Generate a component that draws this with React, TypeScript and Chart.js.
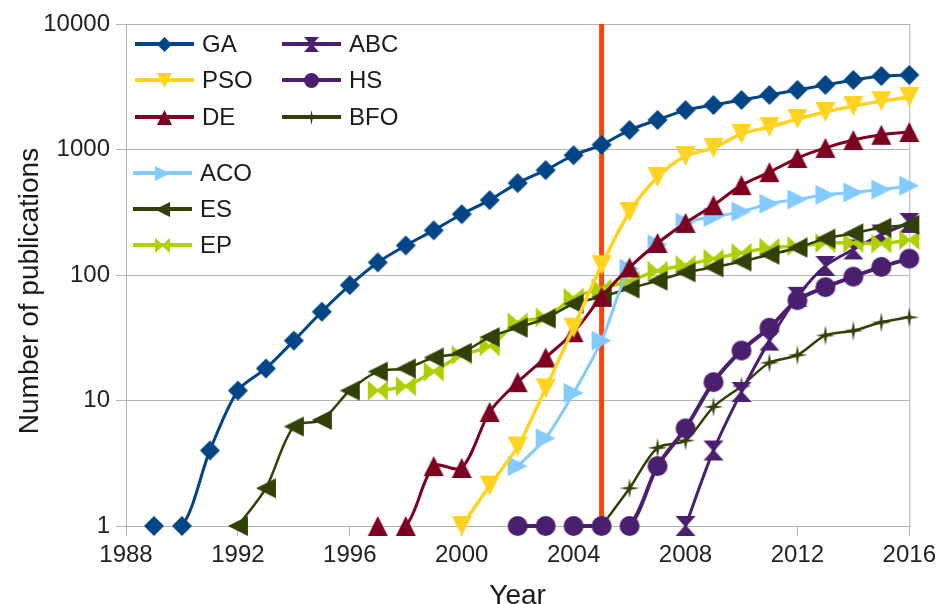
import { useEffect, useRef } from 'react';
import { Chart, registerables } from 'chart.js';

Chart.register(...registerables);

// ---------- data ----------
const YEARS = [1988, 1989, 1990, 1991, 1992, 1993, 1994, 1995, 1996, 1997, 1998, 1999, 2000, 2001, 2002, 2003, 2004, 2005, 2006, 2007, 2008, 2009, 2010, 2011, 2012, 2013, 2014, 2015, 2016];
const X_TICKS = [1988, 1992, 1996, 2000, 2004, 2008, 2012, 2016];
const Y_TICKS = [1, 10, 100, 1000, 10000];
const MARKER_YEAR = 2005;
const X_TITLE = 'Year';
const Y_TITLE = 'Number of publications';

const GA = [null, 1, 1, 4, 12, 18, 30, 51, 83, 126, 172, 227, 305, 395, 540, 685, 900, 1090, 1430, 1720, 2060, 2260, 2480, 2720, 2980, 3270, 3580, 3850, 3930];
const PSO = [null, null, null, null, null, null, null, null, null, null, null, null, 1, 2.1, 4.3, 12.5, 38, 120, 318, 604, 888, 1030, 1330, 1510, 1750, 1990, 2220, 2430, 2620];
const DE = [null, null, null, null, null, null, null, null, null, 1, 1, 3, 2.9, 8.1, 14, 22, 35, 67, 115, 180, 260, 360, 520, 660, 855, 1030, 1190, 1310, 1380];
const ACO = [null, null, null, null, null, null, null, null, null, null, null, null, null, null, 3, 5, 11.5, 30, 112, 175, 262, 290, 320, 370, 400, 435, 455, 480, 515];
const ES = [null, null, null, null, 1, 2, 6.2, 7, 12, 17, 18, 22, 24, 32, 38, 45, 59, 67, 78, 90, 105, 115, 128, 145, 165, 195, 215, 238, 250];
const EP = [null, null, null, null, null, null, null, null, null, 12, 13, 17, 23, 27, 42, 46, 66, 78, 90, 108, 120, 135, 150, 165, 170, 180, 180, 178, 190];
const ABC = [null, null, null, null, null, null, null, null, null, null, null, null, null, null, null, null, null, null, null, null, 1, 4, 11.7, 30, 67, 118, 160, 210, 260];
const HS = [null, null, null, null, null, null, null, null, null, null, null, null, null, null, 1, 1, 1, 1, 1, 3, 6, 14, 25, 38, 63, 80, 97, 116, 135];
const BFO = [null, null, null, null, null, null, null, null, null, null, null, null, null, null, null, null, null, 1, 2, 4.2, 4.8, 8.9, 13, 20, 23, 33, 36, 42, 46];

// segments (start year) that fall below the axis floor in the original and are not shown
const HIDDEN_SEGMENTS: Record<string, number[]> = { GA: [1989], DE: [1997], HS: [2003, 2005] };

const SERIES = [
  { name: 'GA', values: GA, color: '#004586', shape: 'diamond', width: 3 },
  { name: 'PSO', values: PSO, color: '#ffd320', shape: 'down', width: 3.5 },
  { name: 'DE', values: DE, color: '#7e0021', shape: 'up', width: 3 },
  { name: 'ACO', values: ACO, color: '#83caff', shape: 'right', width: 3 },
  { name: 'ES', values: ES, color: '#314004', shape: 'left', width: 2.5 },
  { name: 'EP', values: EP, color: '#aecf00', shape: 'bowtie', width: 3.5 },
  { name: 'ABC', values: ABC, color: '#4b1f6f', shape: 'sandglass', width: 3 },
  { name: 'HS', values: HS, color: '#4b1f6f', shape: 'circle', width: 4 },
  { name: 'BFO', values: BFO, color: '#314004', shape: 'star', width: 2.5 },
];

const FONT = "'Liberation Sans', Arial, sans-serif";

function makeMarker(shape: string, color: string, size: number): HTMLCanvasElement {
  const pad = 1;
  const S = size + pad * 2;
  const c = document.createElement('canvas');
  c.width = S;
  c.height = S;
  const g = c.getContext('2d')!;
  g.translate(pad, pad);
  g.fillStyle = color;
  const s = size;
  const h = s / 2;
  const n = s * 0.06;
  g.beginPath();
  switch (shape) {
    case 'diamond':
      g.moveTo(h, 0); g.lineTo(s, h); g.lineTo(h, s); g.lineTo(0, h);
      break;
    case 'down':
      g.moveTo(0, 0); g.lineTo(s, 0); g.lineTo(h, s);
      break;
    case 'up':
      g.moveTo(h, 0); g.lineTo(s, s); g.lineTo(0, s);
      break;
    case 'right':
      g.moveTo(0, 0); g.lineTo(s, h); g.lineTo(0, s);
      break;
    case 'left':
      g.moveTo(s, 0); g.lineTo(0, h); g.lineTo(s, s);
      break;
    case 'bowtie':
      g.moveTo(0, 0); g.lineTo(h, h - n); g.lineTo(s, 0); g.lineTo(s, s); g.lineTo(h, h + n); g.lineTo(0, s);
      break;
    case 'sandglass':
      g.moveTo(0, 0); g.lineTo(s, 0); g.lineTo(h + n, h); g.lineTo(s, s); g.lineTo(0, s); g.lineTo(h - n, h);
      break;
    case 'circle':
      g.arc(h, h, h, 0, Math.PI * 2);
      break;
    case 'star': {
      const R = h;
      const r = h * 0.22;
      for (let i = 0; i < 8; i++) {
        const a = -Math.PI / 2 + (i * Math.PI) / 4;
        const rad = i % 2 === 0 ? R : r;
        const px = h + Math.cos(a) * rad;
        const py = h + Math.sin(a) * rad;
        if (i === 0) g.moveTo(px, py); else g.lineTo(px, py);
      }
      break;
    }
  }
  g.closePath();
  g.fill();
  return c;
}

export default function App() {
  const ref = useRef<HTMLCanvasElement | null>(null);

  useEffect(() => {
    if (!ref.current) return;

    const plotMarkers = SERIES.map((s) => makeMarker(s.shape, s.color, 20));
    const legendMarkers = SERIES.map((s) => makeMarker(s.shape, s.color, 15));

    const datasets = SERIES.map((s, i) => ({
      label: s.name,
      data: YEARS.map((yr, k) => ({ x: yr, y: s.values[k] })).filter((p) => p.y !== null),
      borderColor: s.color,
      backgroundColor: s.color,
      borderWidth: s.width,
      pointStyle: plotMarkers[i] as any,
      pointRadius: 10,
      tension: 0.3,
      clip: false as any,
      segment: {
        borderColor: (ctx: any) => {
          const hid = HIDDEN_SEGMENTS[s.name];
          if (hid && hid.includes(ctx.p0.parsed.x)) return 'rgba(0,0,0,0)';
          return undefined;
        },
      },
    }));

    const frame = {
      id: 'frame',
      beforeDatasetsDraw(chart: any) {
        const { ctx, chartArea } = chart;
        const xs = chart.scales.x;
        ctx.save();
        ctx.strokeStyle = '#b3b3b3';
        ctx.lineWidth = 1;
        ctx.strokeRect(chartArea.left + 0.5, chartArea.top + 0.5, chartArea.right - chartArea.left, chartArea.bottom - chartArea.top);
        const px = xs.getPixelForValue(MARKER_YEAR);
        ctx.strokeStyle = '#ff420e';
        ctx.lineWidth = 5;
        ctx.beginPath();
        ctx.moveTo(px, chartArea.top);
        ctx.lineTo(px, chartArea.bottom);
        ctx.stroke();
        // y-axis title (sits a little below the plot centre in the original)
        ctx.save();
        ctx.translate(30, 291);
        ctx.rotate(-Math.PI / 2);
        ctx.fillStyle = '#1a1a1a';
        ctx.font = `28px ${FONT}`;
        ctx.textAlign = 'center';
        ctx.textBaseline = 'middle';
        ctx.fillText(Y_TITLE, 0, 0);
        ctx.restore();
        ctx.restore();
      },
    };

    const legendPos = [
      { x: 135, y: 44 },
      { x: 135, y: 80 },
      { x: 135, y: 117 },
      { x: 133, y: 173 },
      { x: 133, y: 209 },
      { x: 133, y: 245 },
      { x: 282, y: 44 },
      { x: 282, y: 80 },
      { x: 282, y: 117 },
    ];

    const legend = {
      id: 'customLegend',
      afterDatasetsDraw(chart: any) {
        const { ctx } = chart;
        ctx.save();
        SERIES.forEach((s, i) => {
          const p = legendPos[i];
          const len = 59;
          ctx.strokeStyle = s.color;
          ctx.lineWidth = 4;
          ctx.beginPath();
          ctx.moveTo(p.x, p.y);
          ctx.lineTo(p.x + len, p.y);
          ctx.stroke();
          const m = legendMarkers[i];
          ctx.drawImage(m, Math.round(p.x + len / 2 - m.width / 2), Math.round(p.y - m.height / 2));
          ctx.fillStyle = '#1a1a1a';
          ctx.font = `24px ${FONT}`;
          ctx.textBaseline = 'middle';
          ctx.textAlign = 'left';
          ctx.fillText(s.name, p.x + len + 8, p.y + 1);
        });
        ctx.restore();
      },
    };

    const chart = new Chart(ref.current, {
      type: 'line',
      data: { datasets: datasets as any },
      plugins: [frame, legend],
      options: {
        animation: false,
        responsive: false,
        layout: { padding: { top: 24, right: 29, left: 0, bottom: 0 } },
        plugins: {
          legend: { display: false },
          tooltip: { enabled: false },
        },
        scales: {
          x: {
            type: 'linear',
            min: 1988,
            max: 2016,
            afterBuildTicks: (scale: any) => {
              scale.ticks = X_TICKS.map((v) => ({ value: v }));
            },
            afterFit: (scale: any) => {
              scale.height = 78;
            },
            grid: { drawOnChartArea: false, drawTicks: true, tickLength: 10, color: '#b3b3b3' },
            border: { display: true, color: '#b3b3b3' },
            ticks: {
              font: { family: FONT, size: 24 },
              color: '#222',
              padding: 5,
              maxRotation: 0,
              autoSkip: false,
              callback: (v: any) => String(v),
            },
            title: {
              display: true,
              text: X_TITLE,
              font: { family: FONT, size: 28, lineHeight: 1 },
              color: '#1a1a1a',
              padding: { top: 0, bottom: -6 },
            },
          },
          y: {
            type: 'logarithmic',
            min: 1,
            max: 10000,
            afterBuildTicks: (scale: any) => {
              scale.ticks = Y_TICKS.map((v) => ({ value: v }));
            },
            afterFit: (scale: any) => {
              scale.width = 126;
            },
            grid: { color: '#b3b3b3', tickLength: 10 },
            border: { display: true, color: '#b3b3b3' },
            ticks: {
              font: { family: FONT, size: 24 },
              color: '#222',
              padding: 6,
              autoSkip: false,
              callback: (v: any) => String(v),
            },
            title: { display: false },
          },
        },
      },
    });

    return () => chart.destroy();
  }, []);

  return (
    <div style={{ position: 'absolute', left: 0, top: 0, width: 941, height: 604, background: '#fff' }}>
      <canvas ref={ref} width={941} height={604} style={{ display: 'block' }} />
    </div>
  );
}
